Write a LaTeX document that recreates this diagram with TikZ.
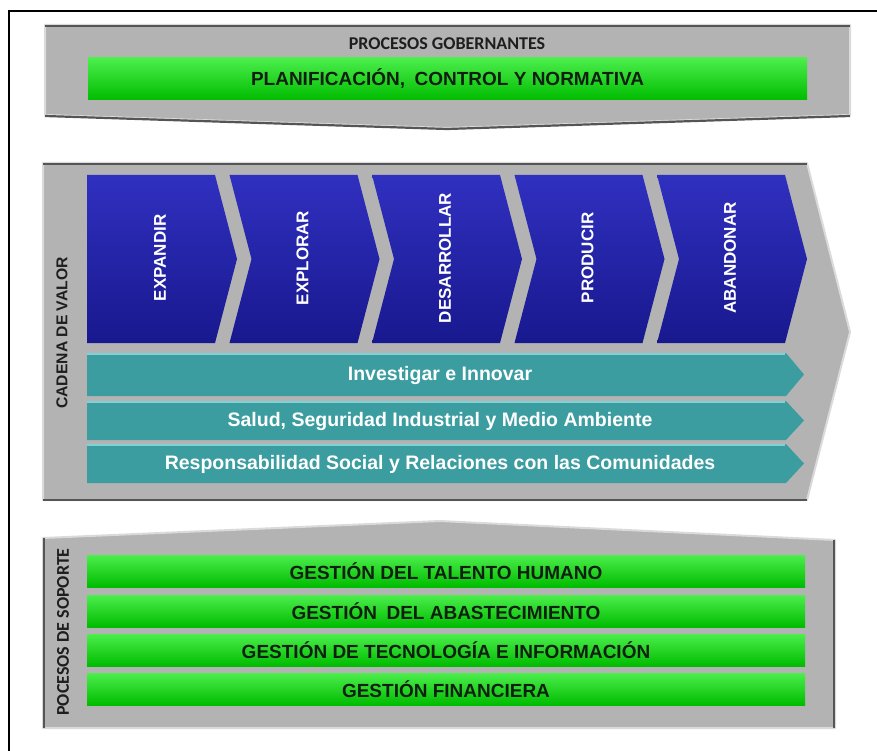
\documentclass[tikz,border=0pt]{standalone}
\usepackage{fontspec}
\setmainfont{Liberation Sans}
\newfontfamily\calibfont{Carlito}

\definecolor{panelgray}{HTML}{B3B3B3}
\definecolor{panelline}{HTML}{DADADA}
\definecolor{edgedark}{HTML}{555555}
\definecolor{bluehi}{HTML}{3030C0}
\definecolor{bluelo}{HTML}{18188E}
\definecolor{tealfill}{HTML}{3C9DA1}
\definecolor{tealhi}{HTML}{7ED2D5}
\definecolor{greenhi}{HTML}{4CEE4C}
\definecolor{greenmid}{HTML}{00D800}
\definecolor{greenlo}{HTML}{00BC00}
\definecolor{greentext}{HTML}{102010}
\definecolor{labeldark}{HTML}{1E1E1E}

\begin{document}
\begin{tikzpicture}[x=1pt, y=-1pt,
  panel/.style = {fill=panelgray, draw=panelline, line width=2pt, line join=round},
  darkedge/.style = {draw=edgedark, line width=2.2pt},
  greenbar/.style = {rectangle, top color=greenhi, middle color=greenmid, bottom color=greenlo,
    minimum width=718pt, inner sep=0pt, text=greentext,
    font=\bfseries\fontsize{19}{21}\selectfont},
  chevlabel/.style = {rotate=90, text=white, font=\bfseries\fontsize{17}{19}\selectfont},
  teallabel/.style = {text=white, font=\bfseries\fontsize{19.5}{22}\selectfont},
  sidelabel/.style = {rotate=90, text=labeldark}
]
\useasboundingbox (0,0) rectangle (877,751);
\draw[line width=2pt] (9,751) -- (9,11) -- (877,11);

% procesos gobernantes
\path[panel] (45,25) -- (850,25) -- (850,115) -- (447,128) -- (45,115) -- cycle;
\draw[darkedge] (45,26) -- (850,26);
\draw[darkedge] (45,116) -- (447,129) -- (850,116);
\node[font=\calibfont\bfseries\fontsize{18}{20}\selectfont, text=labeldark] (gob) at (447,44) {PROCESOS GOBERNANTES};
\node[greenbar, minimum width=719pt, minimum height=42pt] (plan) at (447.5,79) {PLANIFICACIÓN,\hspace{0.5em}CONTROL Y NORMATIVA};

% cadena de valor
\path[panel] (43,163) -- (807,163) -- (850,332) -- (807,500) -- (43,500) -- cycle;
\draw[darkedge] (43,164) -- (807,164);
\draw[darkedge] (43,500) -- (807,500);
\node[sidelabel, font=\bfseries\fontsize{15.7}{18}\selectfont] (cadena) at (62,333) {CADENA DE VALOR};

\foreach \lbl [count=\i from 0] in {EXPANDIR,EXPLORAR,DESARROLLAR,PRODUCIR,ABANDONAR} {
  \pgfmathsetmacro\xl{87+142.5*\i}
  \pgfmathsetmacro\nd{ifthenelse(\i==0,0,22)}
  \path[top color=bluehi, bottom color=bluelo] (\xl,175) -- (\xl+128,175) -- (\xl+150,259)
    -- (\xl+128,343) -- (\xl,343) -- (\xl+\nd,259) -- cycle;
  \node[chevlabel] (etapa\i) at (\xl+73,258) {\lbl};
}

\foreach \ytop/\ybot/\lbl [count=\k] in {353/396/{Investigar e Innovar},
    401/440/{Salud, Seguridad Industrial y Medio Ambiente},
    444/483/{Responsabilidad Social y Relaciones con las Comunidades}} {
  \path[fill=tealfill] (87,\ytop) -- (786,\ytop) -- (804,{(\ytop+\ybot)/2})
    -- (786,\ybot) -- (87,\ybot) -- cycle;
  \draw[tealhi, line width=1.5pt] (87,\ytop+1) -- (785,\ytop+1);
  \node[teallabel] (eje\k) at (440,{(\ytop+\ybot)/2+1}) {\lbl};
}

% procesos de soporte
\path[panel] (43,538) -- (440,521) -- (835,540) -- (835,728) -- (43,728) -- cycle;
\draw[darkedge] (44,538) -- (44,728);
\draw[darkedge] (834,540) -- (834,728);
\node[sidelabel, font=\calibfont\bfseries\fontsize{18}{20}\selectfont] (soporte) at (63,632) {POCESOS DE SOPORTE};

\foreach \yc/\lbl [count=\k] in {571/{GESTIÓN DEL TALENTO HUMANO},
    611/{GESTIÓN\hspace{0.5em}DEL ABASTECIMIENTO},
    650/{GESTIÓN DE TECNOLOGÍA E INFORMACIÓN},
    689/{GESTIÓN FINANCIERA}} {
  \node[greenbar, minimum height=32pt] (gestion\k) at (446,\yc) {\lbl};
}
\end{tikzpicture}
\end{document}
